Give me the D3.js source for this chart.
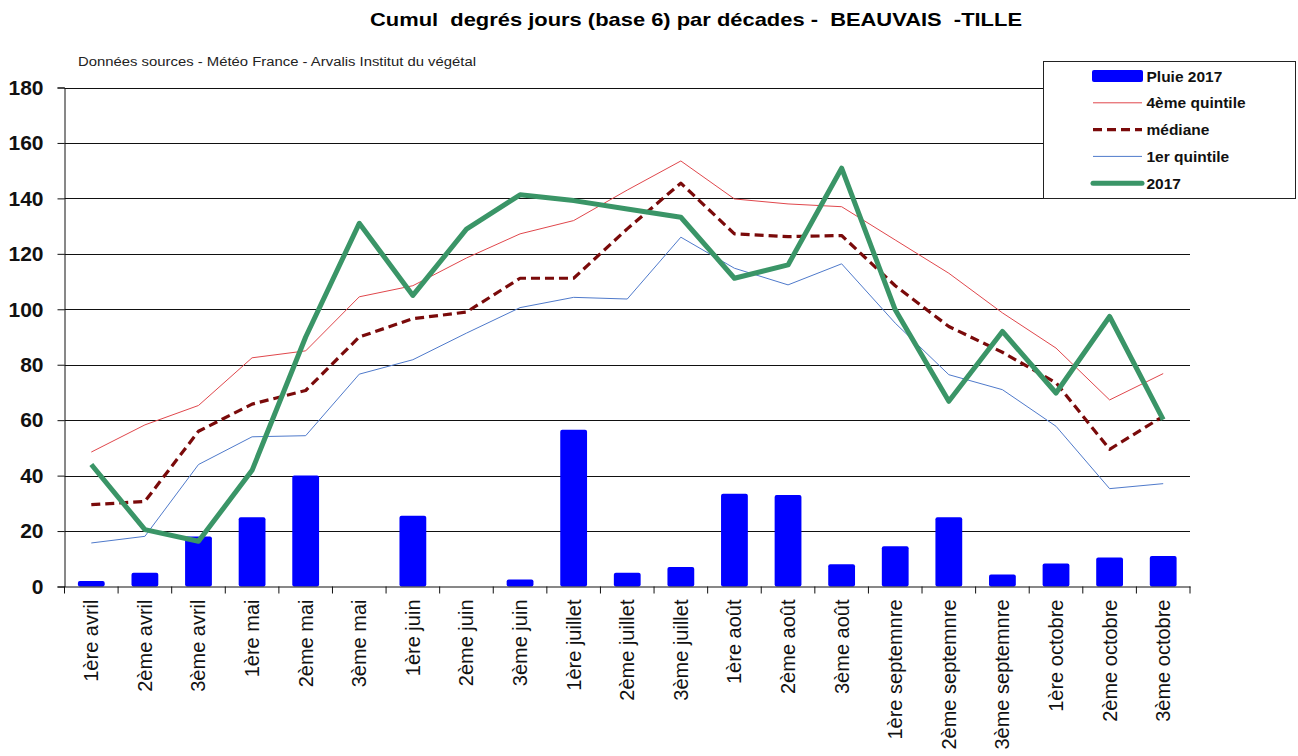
<!DOCTYPE html>
<html>
<head>
<meta charset="utf-8">
<title>Cumul degrés jours</title>
<style>
  body { margin: 0; background: #fff; }
  text { font-family: Arial, "Liberation Sans", sans-serif; }
</style>
</head>
<body>
<div id="chart"></div>
<script src="https://cdnjs.cloudflare.com/ajax/libs/d3/7.8.5/d3.min.js"></script>
<script>

// decades (categories)
var decades = ["1ère avril","2ème avril","3ème avril","1ère mai","2ème mai","3ème mai",
  "1ère juin","2ème juin","3ème juin","1ère juillet","2ème juillet","3ème juillet",
  "1ère août","2ème août","3ème août","1ère septemnre","2ème septemnre","3ème septemnre",
  "1ère octobre","2ème octobre","3ème octobre"];

// series
var pluie2017 = [2, 5, 18, 25, 40, 0, 25.5, 0, 2.5, 56.5, 5, 7, 33.5, 33, 8, 14.5, 25, 4.3, 8.3, 10.5, 11];
var quint4 = [48.5, 58.3, 65.3, 82.5, 85, 104.5, 108.5, 118.5, 127.2, 132, 143, 153.5, 139.8, 138, 137, 125, 113, 98.7, 86, 67.3, 76.8];
var mediane = [29.5, 30.7, 56, 65.8, 70.7, 90, 96.6, 99, 111.2, 111.2, 129, 145.5, 127.2, 126.2, 126.6, 108.5, 93.8, 84.5, 73.5, 49.5, 61.4];
var quint1 = [15.7, 18.1, 44, 54, 54.4, 76.6, 81.8, 91.4, 100.6, 104.3, 103.7, 126, 114.8, 108.8, 116.4, 95, 76.4, 71, 57.8, 35.3, 37.1];
var annee2017 = [44, 20.5, 16.3, 41.9, 90, 131, 105, 128.9, 141.3, 139.2, 136.2, 133.2, 111.2, 116, 150.9, 99.8, 66.8, 92, 69.8, 97.4, 60.2];
var yTicks = [0, 20, 40, 60, 80, 100, 120, 140, 160, 180];

var W = 1298, H = 756;
var x0 = 64.5, x1 = 1190, yTop = 87.5, yBot = 586.5;

var svg = d3.select("#chart").append("svg")
  .attr("width", W).attr("height", H);

var x = d3.scaleBand().domain(decades).range([x0, x1]).paddingInner(0).paddingOuter(0);
var y = d3.scaleLinear().domain([0, 180]).range([yBot, yTop]);

// title + source note
svg.append("text")
  .attr("x", 370).attr("y", 26)
  .style("font-size", "18.5px").style("font-weight", "bold")
  .attr("xml:space", "preserve")
  .attr("textLength", 652).attr("lengthAdjust", "spacingAndGlyphs")
  .text("Cumul  degrés jours (base 6) par décades -  BEAUVAIS  -TILLE");

svg.append("text")
  .attr("x", 78).attr("y", 66)
  .style("font-size", "12.5px")
  .attr("fill", "#222")
  .attr("textLength", 398).attr("lengthAdjust", "spacingAndGlyphs")
  .text("Données  sources - Météo France - Arvalis  Institut du végétal");

// horizontal grid lines
svg.append("g").selectAll("line")
  .data(yTicks.filter(function(d){ return d > 0; }))
  .enter().append("line")
  .attr("x1", x0).attr("x2", x1)
  .attr("y1", function(d){ return Math.round(y(d)) + 0.5; })
  .attr("y2", function(d){ return Math.round(y(d)) + 0.5; })
  .attr("stroke", "#111").attr("stroke-width", 1);

// y axis
var yAxis = svg.append("g")
  .attr("transform", "translate(" + x0 + ",0)")
  .call(d3.axisLeft(y).tickValues(yTicks).tickSize(7).tickPadding(14));
yAxis.selectAll("text")
  .style("font-size", "21px").style("font-weight", "bold")
  .attr("fill", "#111");
yAxis.selectAll("line,path").attr("stroke", "#111");

// rain bars
var bw = x.bandwidth() * 0.5;
svg.append("g").selectAll("rect")
  .data(pluie2017)
  .enter().append("rect")
  .attr("x", function(d, i){ return x(decades[i]) + (x.bandwidth() - bw) / 2; })
  .attr("y", function(d){ return y(d); })
  .attr("width", bw)
  .attr("height", function(d){ return yBot - y(d); })
  .attr("rx", 2)
  .attr("fill", "#0000FF");

// x axis
var xAxis = svg.append("g")
  .attr("transform", "translate(0," + yBot + ")")
  .call(d3.axisBottom(x).tickSize(0).tickPadding(0));
xAxis.select("path").attr("stroke", "#111");
xAxis.selectAll("text")
  .attr("transform", "rotate(-90)")
  .attr("x", -13).attr("y", 0).attr("dy", "0.35em")
  .attr("text-anchor", "end")
  .style("font-size", "20px")
  .attr("fill", "#111");
// tick marks between categories
svg.append("g").selectAll("line")
  .data(d3.range(decades.length + 1))
  .enter().append("line")
  .attr("x1", function(i){ return x0 + i * x.step(); })
  .attr("x2", function(i){ return x0 + i * x.step(); })
  .attr("y1", yBot).attr("y2", yBot + 7)
  .attr("stroke", "#111");

// lines
var line = d3.line()
  .x(function(d, i){ return x(decades[i]) + x.bandwidth() / 2; })
  .y(function(d){ return y(d); });

var series = [
  { name: "4ème quintile", data: quint4, color: "#E0474C", width: 1, dash: null },
  { name: "médiane", data: mediane, color: "#7A0A0A", width: 3.2, dash: "9,5" },
  { name: "1er quintile", data: quint1, color: "#4F7ACB", width: 1, dash: null },
  { name: "2017", data: annee2017, color: "#3A9567", width: 5, dash: null }
];

series.forEach(function(s){
  svg.append("path")
    .datum(s.data)
    .attr("d", line)
    .attr("fill", "none")
    .attr("stroke", s.color)
    .attr("stroke-width", s.width)
    .attr("stroke-dasharray", s.dash)
    .attr("stroke-linejoin", "round");
});

// legend
var lg = svg.append("g");
lg.append("rect")
  .attr("x", 1043.5).attr("y", 61.5).attr("width", 252).attr("height", 137)
  .attr("fill", "#fff").attr("stroke", "#222").attr("stroke-width", 1);

var legendItems = [{ name: "Pluie 2017", bar: true }].concat(series);
legendItems.forEach(function(s, i){
  var cy = 76 + i * 26.8;
  if (s.bar) {
    lg.append("rect")
      .attr("x", 1092).attr("y", cy - 6).attr("width", 51).attr("height", 12)
      .attr("rx", 2).attr("fill", "#0000FF");
  } else {
    lg.append("line")
      .attr("x1", 1093).attr("x2", 1142)
      .attr("y1", cy).attr("y2", cy)
      .attr("stroke", s.color)
      .attr("stroke-width", s.width)
      .attr("stroke-dasharray", s.dash)
      .attr("stroke-linecap", s.name === "2017" ? "round" : "butt");
  }
  lg.append("text")
    .attr("x", 1146.5)
    .attr("y", cy).attr("dy", "0.36em")
    .style("font-size", "15.5px").style("font-weight", "bold")
    .attr("fill", "#111")
    .text(s.name);
});

</script>
</body>
</html>
